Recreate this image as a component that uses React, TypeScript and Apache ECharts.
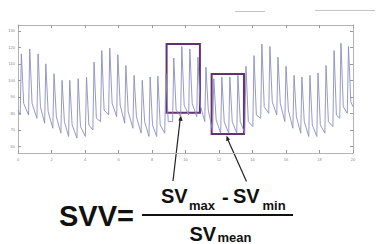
import React, { useEffect, useRef } from "react";
import * as echarts from "echarts";

const peakTimes = [0.2, 0.7, 1.2, 1.66, 2.15, 2.63, 3.09, 3.59, 4.09, 4.54, 5.0, 5.48, 5.96, 6.44, 6.93, 7.42, 7.89, 8.35, 8.83, 9.3, 9.78, 10.26, 10.74, 11.22, 11.69, 12.17, 12.65, 13.13, 13.61, 14.09, 14.56, 15.04, 15.52, 16.0, 16.48, 16.95, 17.43, 17.91, 18.39, 18.87, 19.28, 19.73];
const peakValues = [116, 119, 116, 110, 104, 100, 100, 101, 102, 111, 118, 119.5, 115.5, 109, 103, 100, 102, 102.5, 104, 113.5, 120.5, 119, 114, 108, 101, 102, 102, 103, 108.5, 115, 122, 120.5, 114, 108.5, 103, 102, 103, 104.5, 109, 118, 122.5, 120.5];
const troughValues = [79, 79, 77, 74, 71, 68, 66, 65, 66, 70, 75, 79, 78, 74, 71, 68, 66, 66, 68, 75, 78, 79, 78, 75, 69, 68, 68, 68, 68, 72, 77, 80, 79, 75, 71, 68, 66, 66, 68, 72, 77, 80];
const notchValues = [86, 86, 84, 81, 78, 75, 73, 72, 73, 77, 82, 86, 85, 81, 78, 75, 73, 73, 75, 82, 85, 86, 85, 82, 76, 75, 75, 75, 75, 79, 84, 87, 86, 82, 78, 75, 73, 73, 75, 79, 84, 87];
const startPoint = [0, 82];
const endPoint = [20, 84];

const yTicks = [60, 70, 80, 90, 100, 110, 120, 130];
const xTicks = [0, 2, 4, 6, 8, 10, 12, 14, 16, 18, 20];

// annotation boxes in data coordinates [t0, vTop, t1, vBottom]
const boxes = [
  [8.87, 122.0, 10.86, 80.4],
  [11.56, 103.8, 13.49, 67.5],
];

export default function App() {
  const ref = useRef<HTMLDivElement>(null);
  useEffect(() => {
    if (!ref.current) return;
    const chart = echarts.init(ref.current, null, { renderer: "svg" });
    const data: number[][] = [startPoint];
    for (let i = 0; i < peakTimes.length; i++) {
      data.push([peakTimes[i] - 0.07, troughValues[i]]);
      data.push([peakTimes[i], peakValues[i]]);
      data.push([peakTimes[i] + 0.14, notchValues[i]]);
    }
    data.push(endPoint);

    const axisColor = "#b4b4b4";
    const labelStyle = { fontSize: 4, color: "#8a8a8a", fontFamily: "Liberation Sans" };
    const bold = "Liberation Sans";
    const ink = "#111";

    chart.setOption({
      animation: false,
      grid: { left: 18, right: 25, top: 25, bottom: 91 },
      xAxis: [
        {
          type: "value", min: 0, max: 20, interval: 2, position: "bottom",
          axisLine: { show: true, onZero: false, lineStyle: { color: axisColor, width: 1 } },
          axisTick: { show: true, inside: true, length: 3, lineStyle: { color: "#999" } },
          axisLabel: { ...labelStyle, margin: 4, customValues: xTicks },
          splitLine: { show: false },
        },
        {
          type: "value", min: 0, max: 20, interval: 2, position: "top",
          axisLine: { show: true, onZero: false, lineStyle: { color: axisColor, width: 1 } },
          axisTick: { show: true, inside: true, length: 3, lineStyle: { color: "#999" } },
          axisLabel: { show: false },
          splitLine: { show: false },
        },
      ],
      yAxis: [
        {
          type: "value", min: 56, max: 133.5, position: "left",
          axisLine: { show: true, onZero: false, lineStyle: { color: axisColor, width: 1 } },
          axisTick: { show: true, inside: true, length: 3, customValues: yTicks, lineStyle: { color: "#999" } },
          axisLabel: { ...labelStyle, margin: 3, customValues: yTicks },
          splitLine: { show: false },
        },
        {
          type: "value", min: 56, max: 133.5, position: "right",
          axisLine: { show: true, onZero: false, lineStyle: { color: axisColor, width: 1 } },
          axisTick: { show: true, inside: true, length: 3, customValues: yTicks, lineStyle: { color: "#999" } },
          axisLabel: { show: false, customValues: yTicks },
          splitLine: { show: false },
        },
      ],
      series: [
        {
          type: "line",
          data,
          showSymbol: false,
          symbol: "none",
          lineStyle: { color: "#8a8fc0", width: 0.9 },
          markArea: {
            silent: true,
            itemStyle: { color: "rgba(0,0,0,0)", borderColor: "#633072", borderWidth: 2 },
            data: boxes.map((b) => [{ coord: [b[0], b[1]] }, { coord: [b[2], b[3]] }]),
          },
        },
      ],
      graphic: [
        { type: "line", shape: { x1: 235, y1: 11.5, x2: 265, y2: 11.5 }, style: { stroke: "#c4c4c4", lineWidth: 1 } },
        { type: "line", shape: { x1: 315, y1: 10.5, x2: 375, y2: 10.5 }, style: { stroke: "#c4c4c4", lineWidth: 1 } },
        // arrows
        { type: "line", shape: { x1: 180.2, y1: 119, x2: 173, y2: 181 }, style: { stroke: "#222", lineWidth: 1.2 } },
        { type: "polygon", shape: { points: [[180.8, 115], [182.6, 121], [178.4, 120.6]] }, style: { fill: "#222" } },
        { type: "line", shape: { x1: 228, y1: 140, x2: 246.5, y2: 181.5 }, style: { stroke: "#222", lineWidth: 1.2 } },
        { type: "polygon", shape: { points: [[226.5, 135.5], [230, 139.6], [226.2, 141.3]] }, style: { fill: "#222" } },
        // formula
        { type: "text", x: 59, y: 216, style: { text: "SVV=", font: `bold 29px ${bold}`, fill: ink, verticalAlign: "middle" } },
        { type: "line", shape: { x1: 142, y1: 215, x2: 293, y2: 215 }, style: { stroke: ink, lineWidth: 2 } },
        { type: "text", x: 161, y: 196, style: { text: "SV", font: `bold 20px ${bold}`, fill: ink, verticalAlign: "middle" } },
        { type: "text", x: 189, y: 205.5, style: { text: "max", font: `bold 13px ${bold}`, fill: ink, verticalAlign: "middle" } },
        { type: "text", x: 222, y: 197, style: { text: "-", font: `bold 20px ${bold}`, fill: ink, verticalAlign: "middle" } },
        { type: "text", x: 233, y: 196, style: { text: "SV", font: `bold 20px ${bold}`, fill: ink, verticalAlign: "middle" } },
        { type: "text", x: 262.5, y: 205.5, style: { text: "min", font: `bold 13px ${bold}`, fill: ink, verticalAlign: "middle" } },
        { type: "text", x: 189.5, y: 234, style: { text: "SV", font: `bold 20px ${bold}`, fill: ink, verticalAlign: "middle" } },
        { type: "text", x: 217.5, y: 237, style: { text: "mean", font: `bold 13px ${bold}`, fill: ink, verticalAlign: "middle" } },
      ],
    });
    return () => chart.dispose();
  }, []);
  return (
    <div
      ref={ref}
      style={{ position: "fixed", left: 0, top: 0, width: 378, height: 244, background: "#fff" }}
    />
  );
}
